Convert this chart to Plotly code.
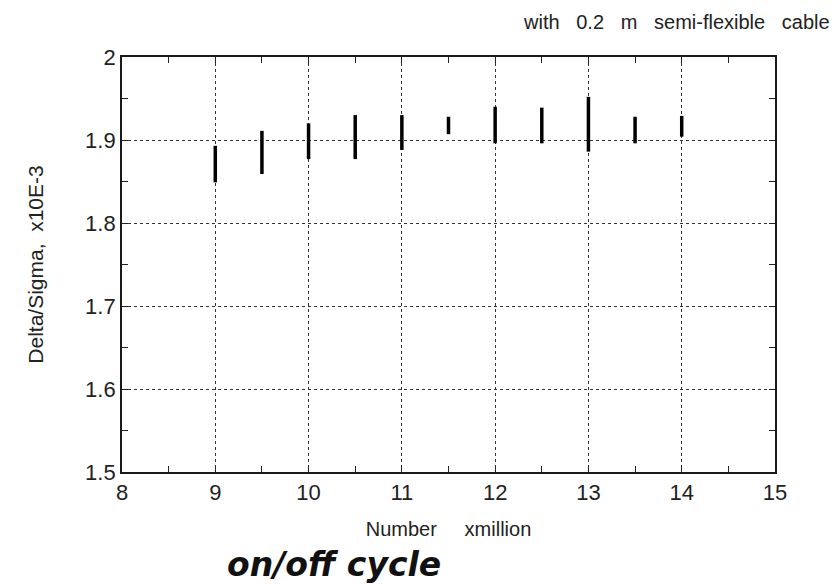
import plotly.graph_objects as go

# Data
x_vals = [9, 9.5, 10, 10.5, 11, 11.5, 12, 12.5, 13, 13.5, 14]
y_high = [1.893, 1.911, 1.920, 1.930, 1.930, 1.928, 1.940, 1.939, 1.952, 1.928, 1.929]
y_low = [1.849, 1.859, 1.877, 1.877, 1.888, 1.907, 1.896, 1.896, 1.886, 1.896, 1.904]

x_ticks = [8, 9, 10, 11, 12, 13, 14, 15]
y_ticks = [1.5, 1.6, 1.7, 1.8, 1.9, 2.0]
y_tick_text = ["1.5", "1.6", "1.7", "1.8", "1.9", "2"]

title_text = "with   0.2   m   semi-flexible   cable"
x_title = "Number     xmillion"
y_title = "Delta/Sigma,  x10E-3"
note_text = "on/off cycle"

# Build segments from data
seg_x, seg_y = [], []
for xv, lo, hi in zip(x_vals, y_low, y_high):
    seg_x += [xv, xv, None]
    seg_y += [lo, hi, None]

FONT = "Liberation Sans"

fig = go.Figure()
fig.add_trace(go.Scatter(
    x=seg_x, y=seg_y, mode="lines",
    line=dict(color="black", width=3.5),
    showlegend=False, hoverinfo="skip",
))

axis_common = dict(
    showline=True, linecolor="#1a1a1a", linewidth=1.8, mirror="allticks",
    showgrid=True, gridcolor="#333", griddash="dot", gridwidth=1,
    ticks="inside", ticklen=6, tickcolor="#222", tickwidth=1.2,
    zeroline=False,
    tickfont=dict(family=FONT, size=22, color="#222"),
)

fig.update_xaxes(
    range=[8, 15], tickvals=x_ticks, ticktext=[str(v) for v in x_ticks],
    minor=dict(dtick=0.5, ticks="inside", ticklen=6, tickcolor="#222", showgrid=False),
    title=dict(text=x_title, font=dict(family=FONT, size=20, color="#222"), standoff=18),
    **axis_common,
)
fig.update_yaxes(
    range=[1.5, 2.0], tickvals=y_ticks, ticktext=y_tick_text,
    minor=dict(dtick=0.05, ticks="inside", ticklen=6, tickcolor="#222", showgrid=False),
    title=dict(text=y_title, font=dict(family=FONT, size=21, color="#222"), standoff=36),
    **axis_common,
)

fig.add_annotation(
    text=title_text, xref="paper", yref="paper", x=1.0, y=1.0,
    xanchor="right", yanchor="bottom", yshift=22, xshift=57, showarrow=False,
    font=dict(family=FONT, size=20, color="#222"),
)
fig.add_annotation(
    text="<b><i>" + note_text + "</i></b>", xref="paper", yref="paper",
    x=(334 - 122) / 653, y=0, xanchor="center", yanchor="middle",
    yshift=-(564 - 472), showarrow=False,
    font=dict(family="DejaVu Sans", size=33, color="#111"),
)

fig.update_layout(
    width=834, height=586,
    margin=dict(l=122, r=59, t=57, b=114),
    paper_bgcolor="white", plot_bgcolor="white",
)

fig.write_html("out.html")
